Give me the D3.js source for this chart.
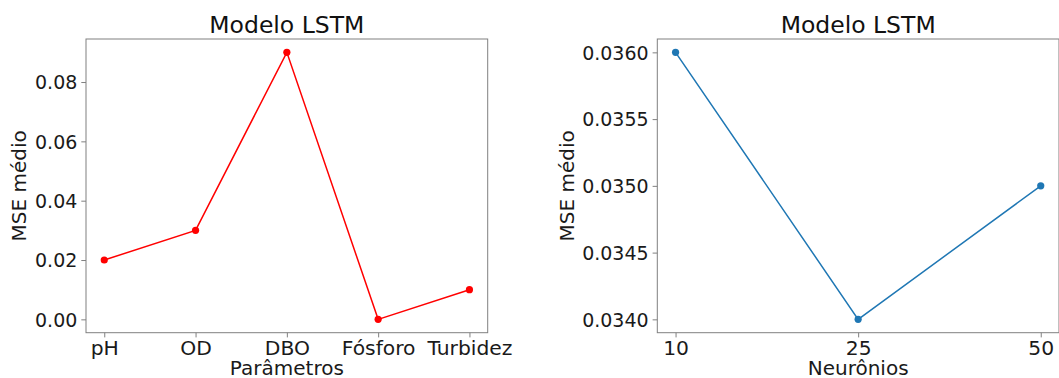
<!DOCTYPE html>
<html>
<head>
<meta charset="utf-8">
<script src="https://cdn.jsdelivr.net/npm/d3@7"></script>
<style>
  html, body { margin: 0; padding: 0; background: #fff; }
  svg { display: block; font-family: "DejaVu Sans", sans-serif; }
</style>
</head>
<body>
<svg id="chart" width="1059" height="378"></svg>
<script>
// ---- data ----
const parametros = ["pH", "OD", "DBO", "Fósforo", "Turbidez"];
const mseParametros = [0.02, 0.03, 0.09, 0.00, 0.01];
const leftYTicks = [0.00, 0.02, 0.04, 0.06, 0.08];

const neuronios = ["10", "25", "50"];
const mseNeuronios = [0.0360, 0.0340, 0.0350];
const rightYTicks = [0.0340, 0.0345, 0.0350, 0.0355, 0.0360];

const svg = d3.select("#chart");
const yTickFont = 19, xTickFont = 20.3, labelFont = 20, titleFont = 23.5;
const spineColor = "#808080";

function panel(opts) {
  const { x0, x1, y0, y1, cats, vals, yDomain, yTicks, yFmt, color, title, xlabel, ylabel, ylabelX } = opts;
  const g = svg.append("g");
  const x = d3.scaleLinear().domain([-0.05 * (cats.length - 1), (cats.length - 1) * 1.05]).range([x0, x1]);
  const y = d3.scaleLinear().domain(yDomain).range([y1, y0]);

  // frame
  g.append("rect").attr("x", x0).attr("y", y0).attr("width", x1 - x0).attr("height", y1 - y0)
    .attr("fill", "none").attr("stroke", spineColor).attr("stroke-width", 1);

  // y axis
  const ya = g.append("g").attr("transform", `translate(${x0},0)`)
    .call(d3.axisLeft(y).tickValues(yTicks).tickFormat(yFmt).tickSize(4.7).tickPadding(4));
  ya.select(".domain").remove();
  ya.selectAll(".tick line").attr("stroke", spineColor);
  ya.selectAll(".tick text").attr("font-size", yTickFont).attr("fill", "#1a1a1a").attr("font-family", "DejaVu Sans").attr("dy", "0.35em");

  // x axis
  const xa = g.append("g").attr("transform", `translate(0,${y1})`)
    .call(d3.axisBottom(x).tickValues(d3.range(cats.length)).tickFormat(i => cats[i]).tickSize(4.7).tickPadding(3));
  xa.select(".domain").remove();
  xa.selectAll(".tick line").attr("stroke", spineColor);
  xa.selectAll(".tick text").attr("font-size", xTickFont).attr("fill", "#1a1a1a").attr("font-family", "DejaVu Sans");

  // line + markers
  const line = d3.line().x((d, i) => x(i)).y(d => y(d));
  g.append("path").datum(vals).attr("d", line).attr("fill", "none")
    .attr("stroke", color).attr("stroke-width", 1.5);
  g.selectAll("circle.pt").data(vals).enter().append("circle")
    .attr("cx", (d, i) => x(i)).attr("cy", d => y(d)).attr("r", 3.6).attr("fill", color);

  // title
  g.append("text").attr("x", (x0 + x1) / 2).attr("y", 33).attr("text-anchor", "middle")
    .attr("font-size", titleFont).attr("fill", "#111").text(title);
  // x label
  g.append("text").attr("x", (x0 + x1) / 2).attr("y", 375).attr("text-anchor", "middle")
    .attr("font-size", labelFont).attr("fill", "#1a1a1a").text(xlabel);
  // y label
  g.append("text").attr("transform", `translate(${ylabelX},${(y0 + y1) / 2}) rotate(-90)`)
    .attr("text-anchor", "middle").attr("font-size", labelFont).attr("fill", "#1a1a1a").text(ylabel);
}

panel({
  x0: 86, x1: 487.7, y0: 39, y1: 332.7,
  cats: parametros, vals: mseParametros,
  yDomain: [-0.0045, 0.0945], yTicks: leftYTicks, yFmt: d3.format(".2f"),
  color: "#ff0000", title: "Modelo LSTM", xlabel: "Parâmetros", ylabel: "MSE médio", ylabelX: 26
});

panel({
  x0: 657.3, x1: 1059, y0: 39, y1: 332.7,
  cats: neuronios, vals: mseNeuronios,
  yDomain: [0.0339, 0.0361], yTicks: rightYTicks, yFmt: d3.format(".4f"),
  color: "#1f77b4", title: "Modelo LSTM", xlabel: "Neurônios", ylabel: "MSE médio", ylabelX: 574
});
</script>
</body>
</html>
